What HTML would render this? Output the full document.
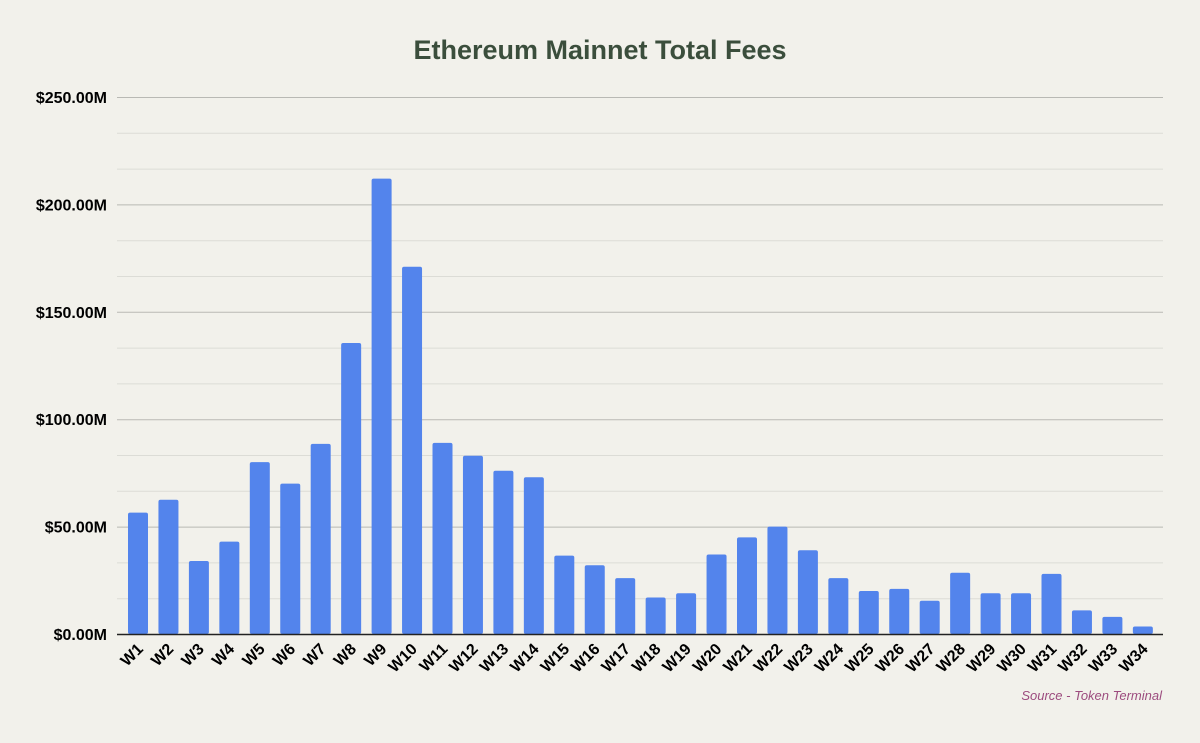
<!DOCTYPE html>
<html><head><meta charset="utf-8"><style>
body{margin:0;background:#f2f1eb;}
svg{display:block;font-family:"Liberation Sans",Arial,sans-serif;}
</style></head><body>
<svg width="1200" height="743">
<rect width="1200" height="743" fill="#f2f1eb"/>
<text x="600" y="59" text-anchor="middle" font-size="27" font-weight="bold" fill="#3b4e3c">Ethereum Mainnet Total Fees</text>
<g id="grid"></g>
<g id="bars"></g>
<g id="ylab"></g>
<g id="xlab"></g>
<line x1="117" y1="634.5" x2="1163" y2="634.5" stroke="#222" stroke-width="1.5"/>
<text x="1162" y="700" text-anchor="end" font-size="13" font-style="italic" fill="#9c4b7e">Source - Token Terminal</text>
</svg>
<script>
const categories=["W1","W2","W3","W4","W5","W6","W7","W8","W9","W10","W11","W12","W13","W14","W15","W16","W17","W18","W19","W20","W21","W22","W23","W24","W25","W26","W27","W28","W29","W30","W31","W32","W33","W34"];
const fees=[56.5,62.5,34,43,80,70,88.5,135.5,212,171,89,83,76,73,36.5,32,26,17,19,37,45,50,39,26,20,21,15.5,28.5,19,19,28,11,8,3.5];
const yTicks=[0,50,100,150,200,250];
const yTickLabels=["$0.00M","$50.00M","$100.00M","$150.00M","$200.00M","$250.00M"];
const NS="http://www.w3.org/2000/svg";
const y0=634,yTop=97,yMax=250;
const y=v=>y0-(v/yMax)*(y0-yTop);
const x=i=>138+i*30.45;
const grid=document.getElementById('grid'),bars=document.getElementById('bars'),yl=document.getElementById('ylab'),xl=document.getElementById('xlab');
for(let k=0;k<=15;k++){
  const v=k*50/3;
  const l=document.createElementNS(NS,'line');
  
  
  const major=k%3===0;
  l.setAttribute('x1',117);l.setAttribute('x2',1163);
  l.setAttribute('y1',y(v)+0.5);l.setAttribute('y2',y(v)+0.5);
  l.setAttribute('stroke',major?'#b9b9b4':'#dcdcd6');l.setAttribute('stroke-width',1);
  grid.appendChild(l);
}
yTicks.forEach((t,i)=>{
  const tx=document.createElementNS(NS,'text');
  
  
  tx.setAttribute('x',107);tx.setAttribute('y',y(t)+6);
  tx.setAttribute('text-anchor','end');tx.setAttribute('font-size','16');tx.setAttribute('font-weight','bold');
  tx.textContent=yTickLabels[i];yl.appendChild(tx);
});
fees.forEach((v,i)=>{
  const r=document.createElementNS(NS,'rect');
  
  
  r.setAttribute('x',x(i)-10);r.setAttribute('width',20);
  r.setAttribute('y',y(v));r.setAttribute('height',y0-y(v));
  r.setAttribute('rx',2);r.setAttribute('fill','#5384ec');
  bars.appendChild(r);
  const t=document.createElementNS(NS,'text');
  
  
  const cx=x(i)+6,cy=650;
  t.setAttribute('x',cx);t.setAttribute('y',cy);
  t.setAttribute('text-anchor','end');t.setAttribute('font-size','16');t.setAttribute('font-weight','bold');
  t.setAttribute('transform','rotate(-45 '+cx+' '+cy+')');
  t.textContent=categories[i];xl.appendChild(t);
});
</script>
</body></html>
